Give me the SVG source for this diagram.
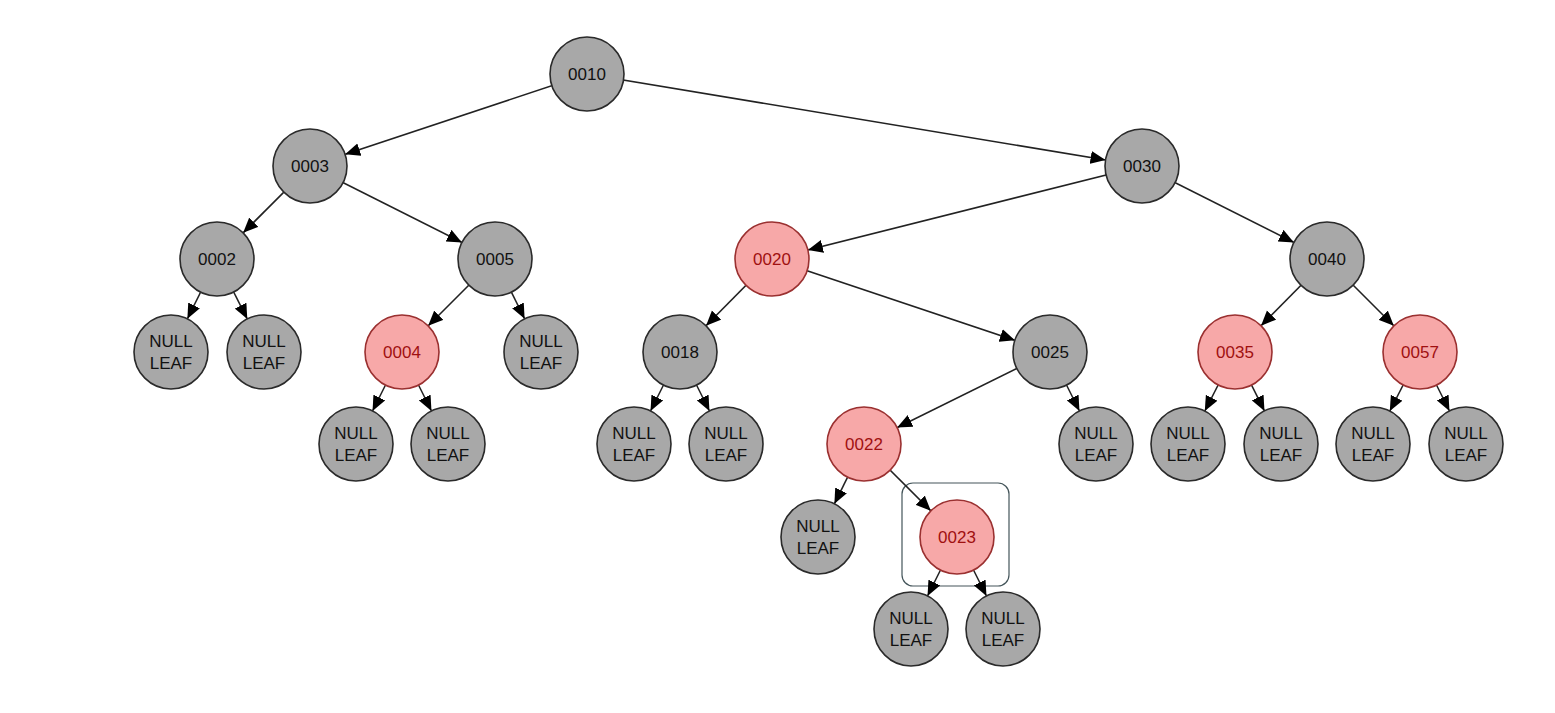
<svg xmlns="http://www.w3.org/2000/svg" width="1555" height="713" viewBox="0 0 1555 713">
<defs>
<marker id="ah" markerUnits="userSpaceOnUse" markerWidth="62" markerHeight="14" refX="52" refY="6.5" orient="auto" viewBox="0 0 62 13">
<path d="M0,0 L15,6.5 L0,13 z" fill="#000"/>
</marker>
<style>
.e{stroke:#222;stroke-width:1.6;fill:none;marker-end:url(#ah)}
.b circle{fill:#a8a8a8;stroke:#2a2a2a;stroke-width:1.6}
.r circle{fill:#f7a8a8;stroke:#9a3030;stroke-width:1.6}
text{font-family:"Liberation Sans",Arial,sans-serif;font-size:17px;text-anchor:middle}
.b text{fill:#111}
.r text{fill:#a01010}
</style>
</defs>
<rect width="1555" height="713" fill="#fff"/>
<rect x="902" y="483" width="107" height="103" rx="11" fill="none" stroke="#44555a" stroke-width="1.2"/>
<g id="edges">
<line class="e" x1="587" y1="74" x2="310" y2="166"/>
<line class="e" x1="587" y1="74" x2="1142" y2="166"/>
<line class="e" x1="310" y1="166" x2="217" y2="259"/>
<line class="e" x1="310" y1="166" x2="495" y2="259"/>
<line class="e" x1="1142" y1="166" x2="772" y2="259"/>
<line class="e" x1="1142" y1="166" x2="1327" y2="259"/>
<line class="e" x1="217" y1="259" x2="171" y2="352"/>
<line class="e" x1="217" y1="259" x2="264" y2="352"/>
<line class="e" x1="495" y1="259" x2="402" y2="352"/>
<line class="e" x1="495" y1="259" x2="541" y2="352"/>
<line class="e" x1="772" y1="259" x2="680" y2="352"/>
<line class="e" x1="772" y1="259" x2="1050" y2="352"/>
<line class="e" x1="1327" y1="259" x2="1235" y2="352"/>
<line class="e" x1="1327" y1="259" x2="1420" y2="352"/>
<line class="e" x1="402" y1="352" x2="356" y2="444"/>
<line class="e" x1="402" y1="352" x2="448" y2="444"/>
<line class="e" x1="680" y1="352" x2="634" y2="444"/>
<line class="e" x1="680" y1="352" x2="726" y2="444"/>
<line class="e" x1="1050" y1="352" x2="864" y2="444"/>
<line class="e" x1="1050" y1="352" x2="1096" y2="444"/>
<line class="e" x1="1235" y1="352" x2="1188" y2="444"/>
<line class="e" x1="1235" y1="352" x2="1281" y2="444"/>
<line class="e" x1="1420" y1="352" x2="1373" y2="444"/>
<line class="e" x1="1420" y1="352" x2="1466" y2="444"/>
<line class="e" x1="864" y1="444" x2="818" y2="537"/>
<line class="e" x1="864" y1="444" x2="957" y2="537"/>
<line class="e" x1="957" y1="537" x2="911" y2="629"/>
<line class="e" x1="957" y1="537" x2="1003" y2="629"/>
</g>
<g id="n0010" class="b"><circle cx="587" cy="74" r="37"/><text x="587" y="80">0010</text></g>
<g id="n0003" class="b"><circle cx="310" cy="166" r="37"/><text x="310" y="172">0003</text></g>
<g id="n0030" class="b"><circle cx="1142" cy="166" r="37"/><text x="1142" y="172">0030</text></g>
<g id="n0002" class="b"><circle cx="217" cy="259" r="37"/><text x="217" y="265">0002</text></g>
<g id="n0005" class="b"><circle cx="495" cy="259" r="37"/><text x="495" y="265">0005</text></g>
<g id="n0020" class="r"><circle cx="772" cy="259" r="37"/><text x="772" y="265">0020</text></g>
<g id="n0040" class="b"><circle cx="1327" cy="259" r="37"/><text x="1327" y="265">0040</text></g>
<g id="nl1" class="b"><circle cx="171" cy="352" r="37"/><text x="171" y="347">NULL</text><text x="171" y="369">LEAF</text></g>
<g id="nl2" class="b"><circle cx="264" cy="352" r="37"/><text x="264" y="347">NULL</text><text x="264" y="369">LEAF</text></g>
<g id="n0004" class="r"><circle cx="402" cy="352" r="37"/><text x="402" y="358">0004</text></g>
<g id="nl3" class="b"><circle cx="541" cy="352" r="37"/><text x="541" y="347">NULL</text><text x="541" y="369">LEAF</text></g>
<g id="n0018" class="b"><circle cx="680" cy="352" r="37"/><text x="680" y="358">0018</text></g>
<g id="n0025" class="b"><circle cx="1050" cy="352" r="37"/><text x="1050" y="358">0025</text></g>
<g id="n0035" class="r"><circle cx="1235" cy="352" r="37"/><text x="1235" y="358">0035</text></g>
<g id="n0057" class="r"><circle cx="1420" cy="352" r="37"/><text x="1420" y="358">0057</text></g>
<g id="nl4" class="b"><circle cx="356" cy="444" r="37"/><text x="356" y="439">NULL</text><text x="356" y="461">LEAF</text></g>
<g id="nl5" class="b"><circle cx="448" cy="444" r="37"/><text x="448" y="439">NULL</text><text x="448" y="461">LEAF</text></g>
<g id="nl6" class="b"><circle cx="634" cy="444" r="37"/><text x="634" y="439">NULL</text><text x="634" y="461">LEAF</text></g>
<g id="nl7" class="b"><circle cx="726" cy="444" r="37"/><text x="726" y="439">NULL</text><text x="726" y="461">LEAF</text></g>
<g id="n0022" class="r"><circle cx="864" cy="444" r="37"/><text x="864" y="450">0022</text></g>
<g id="nl8" class="b"><circle cx="1096" cy="444" r="37"/><text x="1096" y="439">NULL</text><text x="1096" y="461">LEAF</text></g>
<g id="nl9" class="b"><circle cx="1188" cy="444" r="37"/><text x="1188" y="439">NULL</text><text x="1188" y="461">LEAF</text></g>
<g id="nl10" class="b"><circle cx="1281" cy="444" r="37"/><text x="1281" y="439">NULL</text><text x="1281" y="461">LEAF</text></g>
<g id="nl11" class="b"><circle cx="1373" cy="444" r="37"/><text x="1373" y="439">NULL</text><text x="1373" y="461">LEAF</text></g>
<g id="nl12" class="b"><circle cx="1466" cy="444" r="37"/><text x="1466" y="439">NULL</text><text x="1466" y="461">LEAF</text></g>
<g id="nl13" class="b"><circle cx="818" cy="537" r="37"/><text x="818" y="532">NULL</text><text x="818" y="554">LEAF</text></g>
<g id="n0023" class="r"><circle cx="957" cy="537" r="37"/><text x="957" y="543">0023</text></g>
<g id="nl14" class="b"><circle cx="911" cy="629" r="37"/><text x="911" y="624">NULL</text><text x="911" y="646">LEAF</text></g>
<g id="nl15" class="b"><circle cx="1003" cy="629" r="37"/><text x="1003" y="624">NULL</text><text x="1003" y="646">LEAF</text></g>
</svg>
